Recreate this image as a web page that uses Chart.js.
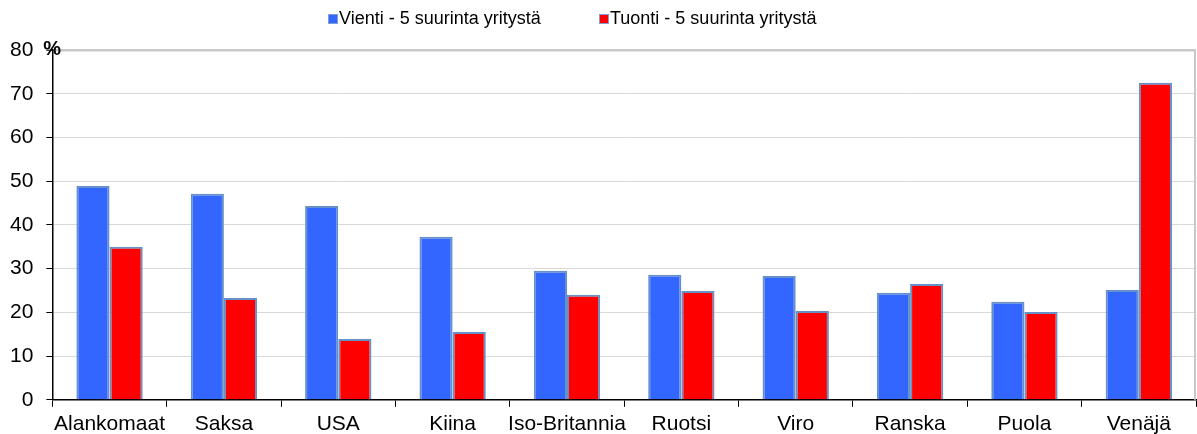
<!DOCTYPE html>
<html>
<head>
<meta charset="utf-8">
<script src="https://cdn.jsdelivr.net/npm/chart.js@4/dist/chart.umd.min.js"></script>
<style>
  html, body { margin: 0; padding: 0; background: #fff; }
  #wrap { width: 1197px; height: 434px; }
</style>
</head>
<body>
<div id="wrap"><canvas id="myChart"></canvas></div>
<script>
const maat = ["Alankomaat", "Saksa", "USA", "Kiina", "Iso-Britannia", "Ruotsi", "Viro", "Ranska", "Puola", "Venäjä"];
const vienti = [48.9, 47.1, 44.3, 37.3, 29.5, 28.6, 28.3, 24.5, 22.4, 25.1];
const tuonti = [35.0, 23.3, 13.9, 15.5, 24.0, 24.9, 20.3, 26.5, 20.1, 72.5];
const yTicks = [0, 10, 20, 30, 40, 50, 60, 70, 80];

const fontti = "'Liberation Sans', Arial, sans-serif";

// oma selite, kohdat kuten alkuperäisessä kuvassa
const selite = {
  id: "selite",
  afterDraw(chart) {
    const c = chart.ctx;
    const paikat = [328, 599];
    c.save();
    c.font = "18px " + fontti;
    c.textBaseline = "middle";
    chart.data.datasets.forEach((ds, i) => {
      const x = paikat[i];
      c.fillStyle = ds.backgroundColor;
      c.fillRect(x, 14, 10, 10);
      c.strokeStyle = "#7f9fcf";
      c.lineWidth = 1;
      c.strokeRect(x + 0.5, 14.5, 9, 9);
      c.fillStyle = "#000";
      c.fillText(ds.label, x + 11, 19);
    });
    // % merkki y-akselin yläpäähän
    const a = chart.chartArea;
    c.font = "bold 20px " + fontti;
    c.textBaseline = "alphabetic";
    c.fillText("%", a.left - 9, a.top + 5);
    // harmaa oikea reuna
    c.strokeStyle = "#c8c8c8";
    c.lineWidth = 2;
    c.beginPath();
    c.moveTo(a.right - 1, a.top);
    c.lineTo(a.right - 1, a.bottom);
    c.stroke();
    c.restore();
  }
};

const ctx = document.getElementById("myChart").getContext("2d");
new Chart(ctx, {
  type: "bar",
  data: {
    labels: maat,
    datasets: [
      {
        label: "Vienti - 5 suurinta yritystä",
        data: vienti,
        backgroundColor: "#3366FF",
        borderColor: "#6690c8",
        borderWidth: 2,
        borderSkipped: "bottom",
      },
      {
        label: "Tuonti - 5 suurinta yritystä",
        data: tuonti,
        backgroundColor: "#FF0000",
        borderColor: "#6690c8",
        borderWidth: 2,
        borderSkipped: "bottom",
      },
    ],
  },
  options: {
    responsive: true,
    maintainAspectRatio: false,
    animation: false,
    layout: { padding: { top: 50, left: -3, right: 1, bottom: -8 } },
    datasets: { bar: { barPercentage: 1, categoryPercentage: 0.58 } },
    plugins: {
      legend: { display: false },
      tooltip: { enabled: false },
    },
    scales: {
      x: {
        grid: {
          display: true,
          drawOnChartArea: false,
          drawTicks: true,
          tickLength: 7,
          tickColor: "#000",
        },
        border: { color: "#000", width: 1.5 },
        ticks: { color: "#000", font: { family: fontti, size: 21 }, padding: 5, maxRotation: 0, autoSkip: false },
      },
      y: {
        min: 0,
        max: 80,
        afterBuildTicks(axis) {
          axis.ticks = yTicks.map((v) => ({ value: v }));
        },
        grid: {
          color: (c) => (c.tick && c.tick.value === 80 ? "#c8c8c8" : "#d9d9d9"),
          lineWidth: (c) => (c.tick && c.tick.value === 80 ? 2.5 : 1),
          tickLength: 6,
          tickColor: "#000",
          tickWidth: 1,
        },
        border: { color: "#000", width: 1.5 },
        ticks: { color: "#000", font: { family: fontti, size: 21 }, padding: 13 },
      },
    },
  },
  plugins: [selite],
});
</script>
</body>
</html>
